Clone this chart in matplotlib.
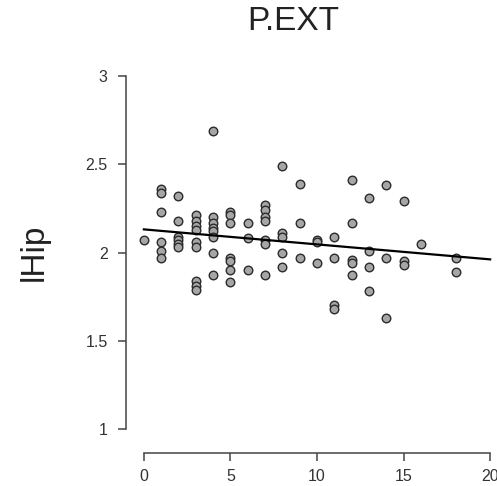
import matplotlib
matplotlib.use("Agg")
import matplotlib.pyplot as plt
import numpy as np

# P.EXT score (x) against lHip volume (y), one list per subject pair
p_ext = [0,
         1, 1, 1, 1, 1, 1,
         2, 2, 2, 2, 2, 2,
         3, 3, 3, 3, 3, 3, 3, 3, 3,
         4, 4, 4, 4, 4, 4, 4, 4,
         5, 5, 5, 5, 5, 5, 5,
         6, 6, 6,
         7, 7, 7, 7, 7, 7, 7,
         8, 8, 8, 8, 8,
         9, 9, 9,
         10, 10, 10,
         11, 11, 11, 11,
         12, 12, 12, 12, 12,
         13, 13, 13, 13,
         14, 14, 14,
         15, 15, 15,
         16,
         18, 18]
lhip = [2.07,
        2.36, 2.34, 2.23, 2.06, 2.01, 1.97,
        2.32, 2.18, 2.09, 2.07, 2.05, 2.03,
        2.21, 2.18, 2.15, 2.13, 2.06, 2.03, 1.84, 1.81, 1.79,
        2.69, 2.20, 2.17, 2.14, 2.12, 2.09, 2.00, 1.87,
        2.23, 2.21, 2.17, 1.97, 1.95, 1.90, 1.83,
        2.17, 2.08, 1.90,
        2.27, 2.24, 2.20, 2.18, 2.07, 2.05, 1.87,
        2.49, 2.11, 2.09, 2.00, 1.92,
        2.39, 2.17, 1.97,
        2.07, 2.06, 1.94,
        2.09, 1.97, 1.70, 1.68,
        2.41, 2.17, 1.96, 1.94, 1.87,
        2.31, 2.01, 1.92, 1.78,
        2.38, 1.97, 1.63,
        2.29, 1.95, 1.93,
        2.05,
        1.97, 1.89]

x_ticks = [0, 5, 10, 15, 20]
y_ticks = [1, 1.5, 2, 2.5, 3]
y_tick_labels = ["1", "1.5", "2", "2.5", "3"]

plt.rcParams["font.family"] = ["Liberation Sans", "DejaVu Sans"]

fig = plt.figure(figsize=(4.97, 4.86), dpi=100)
ax = fig.add_axes([130 / 497, 43 / 486, 374 / 497, 381 / 486])

ax.scatter(p_ext, lhip, s=38, facecolor="#a6a6a6", edgecolor="#2b2b2b",
           linewidths=1.0, zorder=3)

# least squares fit drawn across the x axis range
slope, intercept = np.polyfit(p_ext, lhip, 1)
xs = np.array([0, 20])
ax.plot(xs, intercept + slope * xs, color="black", lw=1.6, zorder=4)

ax.set_xlim(-0.8, 20.8)
ax.set_ylim(0.92, 3.08)

for side in ("top", "right"):
    ax.spines[side].set_visible(False)
ax.spines["left"].set_position(("outward", 3))
ax.spines["bottom"].set_position(("outward", 7))
ax.spines["left"].set_bounds(1, 3)
ax.spines["bottom"].set_bounds(0, 20)
for side in ("left", "bottom"):
    ax.spines[side].set_color("#444444")
    ax.spines[side].set_linewidth(1.1)

ax.set_xticks(x_ticks)
ax.set_yticks(y_ticks)
ax.set_yticklabels(y_tick_labels)
ax.tick_params(axis="both", direction="out", length=6, width=1.1,
               color="#444444", labelsize=11.5, labelcolor="#333333")
ax.tick_params(axis="x", pad=6)
ax.tick_params(axis="y", pad=7)

fig.text(293 / 497, 1 - 22 / 486, "P.EXT", fontsize=24, ha="center",
         va="center", color="#222222")
fig.text(34 / 497, 1 - 252 / 486, "lHip", fontsize=24, rotation=90,
         ha="center", va="center", color="#222222")

fig.savefig("out.png", dpi=100)
